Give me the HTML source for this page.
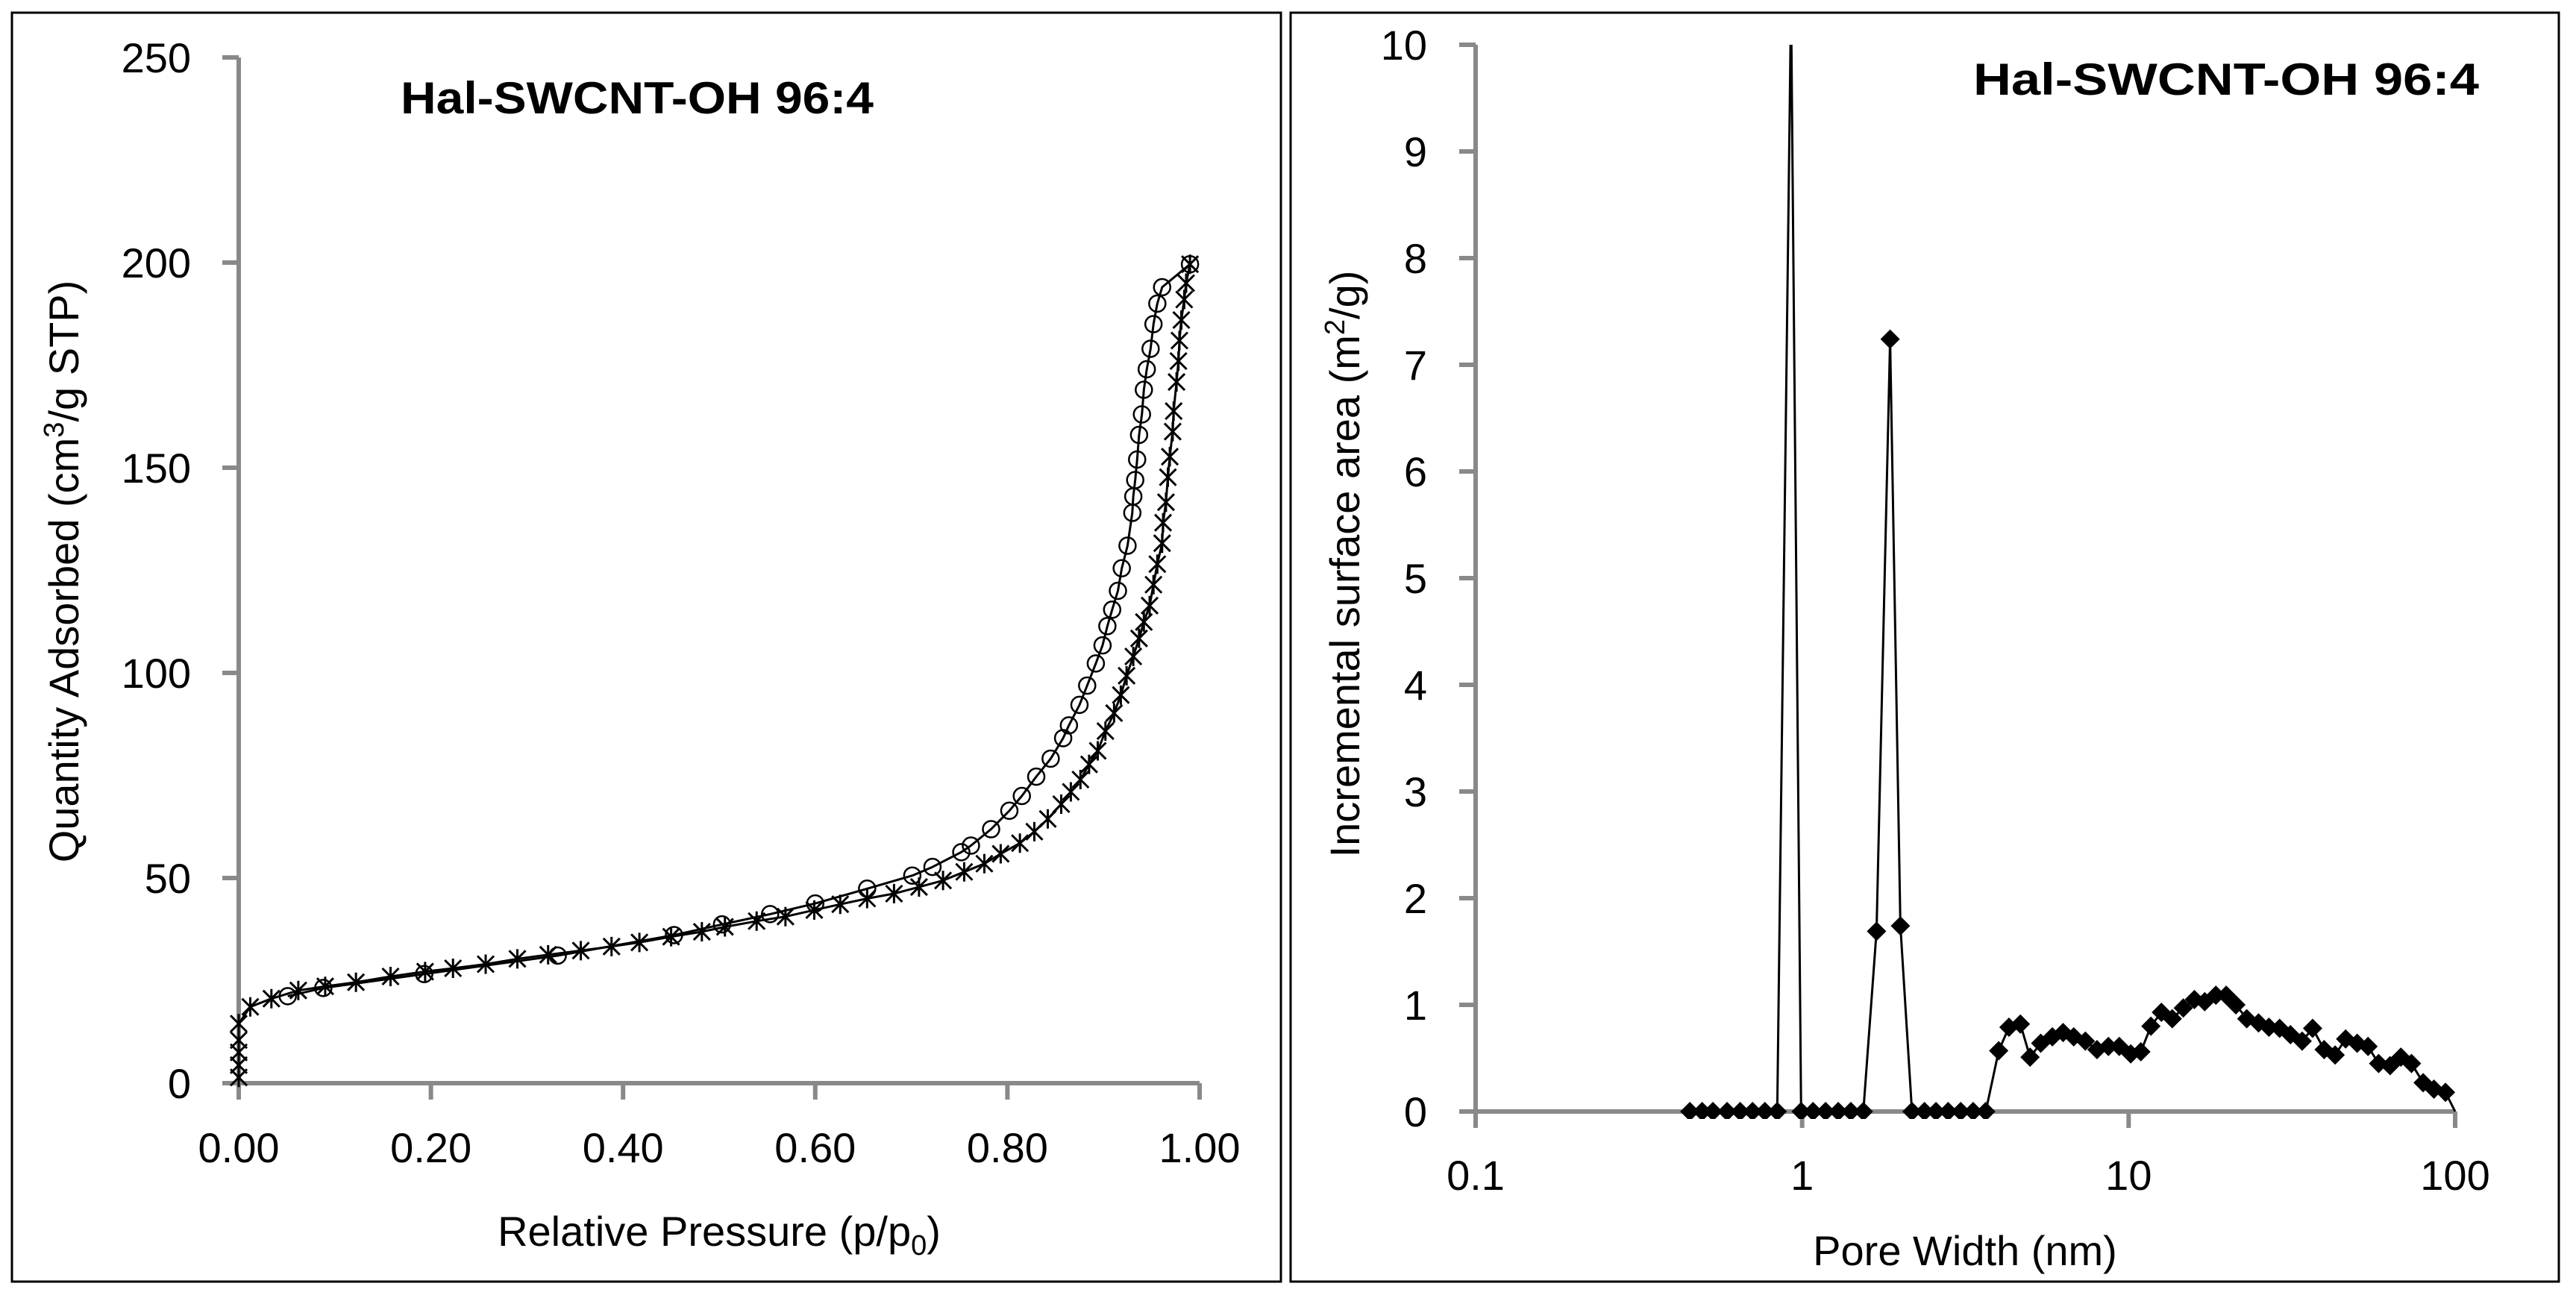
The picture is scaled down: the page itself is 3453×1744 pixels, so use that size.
<!DOCTYPE html>
<html><head><meta charset="utf-8"><style>
html,body{margin:0;padding:0;background:#fff;}
svg{display:block;}
text{font-family:"Liberation Sans",sans-serif;fill:#000;}
</style></head><body>
<svg id="root" width="3453" height="1744" viewBox="0 0 3453 1744" xmlns="http://www.w3.org/2000/svg">
<rect x="0" y="0" width="3453" height="1744" fill="#fff"/>
<rect x="16" y="17" width="1701" height="1701" fill="none" stroke="#000" stroke-width="3"/>
<rect x="1730" y="17" width="1700" height="1701" fill="none" stroke="#000" stroke-width="3"/>
<defs>
<clipPath id="clipR"><rect x="1960" y="60" width="1360" height="1440"/></clipPath>
</defs>
<g id="left"></g>
<g id="right"></g>
<text x="854" y="152" font-size="60" font-weight="bold" text-anchor="middle" textLength="634" lengthAdjust="spacingAndGlyphs">Hal-SWCNT-OH 96:4</text>
<text x="2984" y="127" font-size="60" font-weight="bold" text-anchor="middle" textLength="678" lengthAdjust="spacingAndGlyphs">Hal-SWCNT-OH 96:4</text>
<text x="964" y="1670" font-size="56" text-anchor="middle">Relative Pressure (p/p<tspan font-size="38" dy="12">0</tspan><tspan dy="-12">)</tspan></text>
<text transform="translate(105,766) rotate(-90)" font-size="56" text-anchor="middle">Quantity Adsorbed (cm<tspan font-size="38" dy="-20">3</tspan><tspan dy="20">/g STP)</tspan></text>
<text x="2634" y="1696" font-size="56" text-anchor="middle">Pore Width (nm)</text>
<text transform="translate(1822,756) rotate(-90)" font-size="56" text-anchor="middle">Incremental surface area (m<tspan font-size="38" dy="-20">2</tspan><tspan dy="20">/g)</tspan></text>
</svg>
<script>
// ---- Left chart data ----
const adsX = [0,0,0,0,0,0.012,0.034,0.062,0.09,0.122,0.158,0.194,0.223,0.257,0.29,0.322,0.356,0.388,0.417,0.45,0.482,0.506,0.539,0.569,0.599,0.626,0.654,0.682,0.708,0.733,0.755,0.776,0.793,0.813,0.828,0.842,0.856,0.866,0.876,0.885,0.894,0.902,0.911,0.918,0.924,0.931,0.937,0.942,0.948,0.952,0.956,0.961,0.962,0.965,0.967,0.969,0.972,0.973,0.976,0.978,0.979,0.981,0.984,0.986,0.99];
const adsY = [1.4,4.4,7.5,10.5,14.5,18.6,20.6,22.6,23.6,24.6,26,27.2,28,29,30.3,31.3,32.3,33.3,34.3,35.7,36.9,38.1,39.5,40.6,42.2,43.6,45,46.2,47.8,49.4,51.5,53.5,55.9,58.5,61.3,64.4,68,71,74,77.7,81,85.8,90.2,94.6,99.3,104,108.4,112.4,116.4,121.5,126.5,131.6,136.6,141.6,147.7,152.7,158.8,163.8,170.9,176,181,186,191,195,199.6];
const desX = [0.99,0.961,0.956,0.952,0.949,0.945,0.942,0.94,0.937,0.935,0.933,0.931,0.93,0.925,0.919,0.915,0.909,0.904,0.899,0.892,0.883,0.875,0.864,0.858,0.845,0.83,0.815,0.802,0.783,0.762,0.752,0.722,0.701,0.654,0.6,0.553,0.503,0.453,0.332,0.193,0.088,0.051];
const desY = [199.6,194,190,185,179,174,169,163,158,152,147,143,139,131,125.5,120,115.4,111.4,106.7,102.3,96.9,92.2,87.2,84.1,79.1,74.7,70,66.4,61.9,57.9,56.3,52.7,50.6,47.4,43.8,41.2,38.7,36.1,31.1,26.6,23.2,21.2];
const leftXTicks = ["0.00","0.20","0.40","0.60","0.80","1.00"];
const leftYTicks = ["0","50","100","150","200","250"];
// ---- Right chart data ----
const poreW = [0.453,0.494,0.533,0.589,0.646,0.705,0.769,0.839,0.925,0.993,1.08,1.18,1.29,1.41,1.54,1.69,1.86,2.0,2.17,2.37,2.57,2.8,3.06,3.34,3.65,4.0,4.3,4.66,4.99,5.38,5.84,6.3,6.79,7.37,8.0,8.67,9.36,10.15,10.9,11.7,12.6,13.6,14.7,15.9,17.1,18.5,19.9,21.3,23.0,25.0,26.9,29.0,31.3,34.0,36.6,39.7,42.9,46.2,50.1,54.1,58.3,63.2,68.2,73.5,79.8,86.1,93.4,100];
const poreA = [0,0,0,0,0,0,0,0,10.4,0,0,0,0,0,0,1.69,7.24,1.74,0,0,0,0,0,0,0,0.57,0.79,0.82,0.51,0.64,0.70,0.74,0.70,0.66,0.58,0.61,0.61,0.54,0.56,0.80,0.93,0.87,0.97,1.05,1.03,1.09,1.09,1.0,0.87,0.83,0.79,0.78,0.72,0.66,0.78,0.58,0.53,0.68,0.64,0.61,0.45,0.43,0.51,0.45,0.27,0.21,0.18,0];
const poreMarker = [1,1,1,1,1,1,1,1,0,1,1,1,1,1,1,1,1,1,1,1,1,1,1,1,1,1,1,1,1,1,1,1,1,1,1,1,1,1,1,1,1,1,1,1,1,1,1,1,1,1,1,1,1,1,1,1,1,1,1,1,1,1,1,1,1,1,1,0];
const rightXTicks = ["0.1","1","10","100"];
const rightYTicks = ["0","1","2","3","4","5","6","7","8","9","10"];

const NS="http://www.w3.org/2000/svg";
function mk(parent,tag,attrs){const e=document.createElementNS(NS,tag);for(const k in attrs)e.setAttribute(k,attrs[k]);parent.appendChild(e);return e;}
const AX="#898989";

// Left axes
const lx = v => 320 + v*(1608-320);
const ly = v => 1452 - v*(1452-77)/250;
const L=document.getElementById('left');
let e;
e=mk(L,'line',{x1:320,y1:77,x2:320,y2:1474,stroke:AX,'stroke-width':6});


e=mk(L,'line',{x1:298,y1:1452,x2:1608,y2:1452,stroke:AX,'stroke-width':6});


leftYTicks.forEach(t=>{const y=ly(+t);
  e=mk(L,'line',{x1:298,y1:y,x2:320,y2:y,stroke:AX,'stroke-width':6});
  
  
  e=mk(L,'text',{x:256,y:y+20,'font-size':56,'text-anchor':'end'});e.textContent=t;
  
  
});
leftXTicks.forEach(t=>{const x=lx(+t);
  e=mk(L,'line',{x1:x,y1:1452,x2:x,y2:1474,stroke:AX,'stroke-width':6});
  
  
  e=mk(L,'text',{x:x,y:1558,'font-size':56,'text-anchor':'middle'});e.textContent=t;
  
  
});
function poly(parent,xs,ys,fx,fy,name){
  const pts=xs.map((x,i)=>fx(x).toFixed(1)+','+fy(ys[i]).toFixed(1)).join(' ');
  const p=mk(parent,'polyline',{points:pts,fill:'none',stroke:'#000','stroke-width':3,'stroke-linejoin':'round'});
  
  
  return p;
}
poly(L,desX,desY,lx,ly,'desorption-line');
poly(L,adsX,adsY,lx,ly,'adsorption-line');
desX.forEach((x,i)=>{
  const c=mk(L,'circle',{cx:lx(x),cy:ly(desY[i]),r:11,fill:'none',stroke:'#000','stroke-width':2.5});
  
  
});
adsX.forEach((x,i)=>{
  const cx=lx(x),cy=ly(adsY[i]),s=11;
  const g=mk(L,'path',{d:`M${cx-s},${cy-s}L${cx+s},${cy+s}M${cx-s},${cy+s}L${cx+s},${cy-s}M${cx},${cy-s-2}L${cx},${cy+s+2}`,stroke:'#000','stroke-width':3,fill:'none'});
  
  
});

// Right axes
const rx = v => 1978 + (Math.log10(v)+1)*(3291-1978)/3;
const ry = v => 1490 - v*(1490-60)/10;
const R=document.getElementById('right');
e=mk(R,'line',{x1:1978,y1:60,x2:1978,y2:1512,stroke:AX,'stroke-width':6});


e=mk(R,'line',{x1:1956,y1:1490,x2:3291,y2:1490,stroke:AX,'stroke-width':6});


rightYTicks.forEach(t=>{const y=ry(+t);
  e=mk(R,'line',{x1:1956,y1:y,x2:1978,y2:y,stroke:AX,'stroke-width':6});
  
  
  e=mk(R,'text',{x:1913,y:y+20,'font-size':56,'text-anchor':'end'});e.textContent=t;
  
  
});
rightXTicks.forEach(t=>{const x=rx(+t);
  e=mk(R,'line',{x1:x,y1:1490,x2:x,y2:1512,stroke:AX,'stroke-width':6});
  
  
  e=mk(R,'text',{x:x,y:1595,'font-size':56,'text-anchor':'middle'});e.textContent=t;
  
  
});
const RC=mk(R,'g',{'clip-path':'url(#clipR)'});
poly(RC,poreW,poreA,rx,ry,'pore-area-line');
poreW.forEach((w,i)=>{
  if(!poreMarker[i])return;
  const cx=rx(w),cy=ry(poreA[i]),s=13;
  const d=mk(RC,'path',{d:`M${cx},${cy-s}L${cx+s},${cy}L${cx},${cy+s}L${cx-s},${cy}Z`,fill:'#000'});
  
  
});
</script>
</body></html>
